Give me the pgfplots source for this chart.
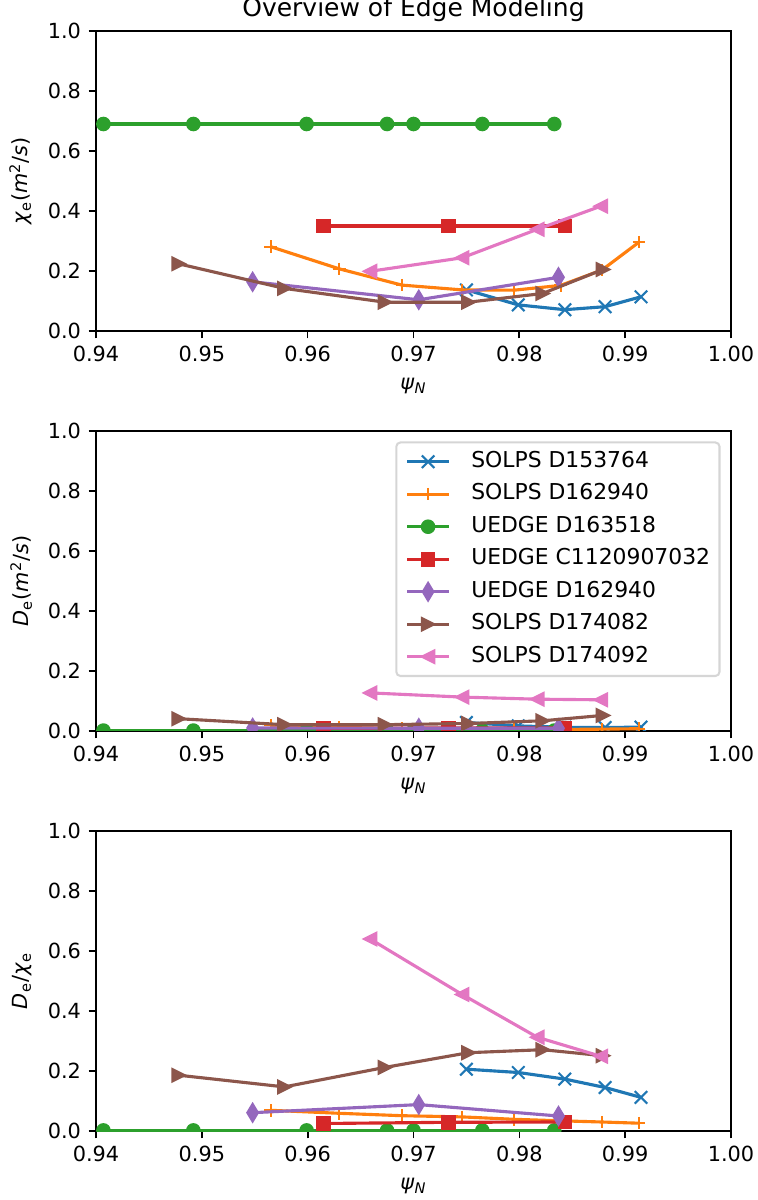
\documentclass[border=0pt]{standalone}
\usepackage{fontspec}
\setmainfont{DejaVu Sans}
\usepackage{pgfplots}
\pgfplotsset{compat=1.18}
\definecolor{C0}{HTML}{1F77B4}
\definecolor{C1}{HTML}{FF7F0E}
\definecolor{C2}{HTML}{2CA02C}
\definecolor{C3}{HTML}{D62728}
\definecolor{C4}{HTML}{9467BD}
\definecolor{C5}{HTML}{8C564B}
\definecolor{C6}{HTML}{E377C2}
\definecolor{legframe}{rgb}{0.8,0.8,0.8}
\pgfdeclareplotmark{tright}{%
  \pgfpathmoveto{\pgfqpoint{\pgfplotmarksize}{0pt}}%
  \pgfpathlineto{\pgfqpoint{-\pgfplotmarksize}{\pgfplotmarksize}}%
  \pgfpathlineto{\pgfqpoint{-\pgfplotmarksize}{-\pgfplotmarksize}}%
  \pgfpathclose\pgfusepathqfillstroke}
\pgfdeclareplotmark{tleft}{%
  \pgfpathmoveto{\pgfqpoint{-\pgfplotmarksize}{0pt}}%
  \pgfpathlineto{\pgfqpoint{\pgfplotmarksize}{\pgfplotmarksize}}%
  \pgfpathlineto{\pgfqpoint{\pgfplotmarksize}{-\pgfplotmarksize}}%
  \pgfpathclose\pgfusepathqfillstroke}
\pgfdeclareplotmark{thindiamond}{%
  \pgfpathmoveto{\pgfqpoint{0pt}{1.4142\pgfplotmarksize}}%
  \pgfpathlineto{\pgfqpoint{0.8485\pgfplotmarksize}{0pt}}%
  \pgfpathlineto{\pgfqpoint{0pt}{-1.4142\pgfplotmarksize}}%
  \pgfpathlineto{\pgfqpoint{-0.8485\pgfplotmarksize}{0pt}}%
  \pgfpathclose\pgfusepathqfillstroke}
\pgfplotsset{
  s0/.style={C0, line width=1.5pt, line join=round, mark=x, mark size=4.243pt, mark options={line width=1pt, line join=miter}},
  s1/.style={C1, line width=1.5pt, line join=round, mark=+, mark size=3pt, mark options={line width=1pt, line join=miter}},
  s2/.style={C2, line width=1.5pt, line join=round, mark=*, mark size=3pt, mark options={line width=1pt}},
  s3/.style={C3, line width=1.5pt, line join=round, mark=square*, mark size=3pt, mark options={line width=1pt, line join=miter}},
  s4/.style={C4, line width=1.5pt, line join=round, mark=thindiamond, mark size=3pt, mark options={line width=1pt, line join=miter}},
  s5/.style={C5, line width=1.5pt, line join=round, mark=tright, mark size=3pt, mark options={line width=1pt, line join=miter}},
  s6/.style={C6, line width=1.5pt, line join=round, mark=tleft, mark size=3pt, mark options={line width=1pt, line join=miter}},
  myaxis/.style={
    scale only axis, width=304.8pt, height=144pt,
    xmin=0.94, xmax=1.0, ymin=0, ymax=1,
    xtick={0.94,0.95,0.96,0.97,0.98,0.99,1.00},
    ytick={0,0.2,0.4,0.6,0.8,1.0},
    tick align=outside, xtick pos=bottom, ytick pos=left,
    major tick length=3.5pt,
    every tick/.style={black, line width=0.8pt},
    axis line style={line width=0.8pt},
    clip marker paths=true,
    /pgf/number format/assume math mode=true,
    xticklabel style={/pgf/number format/.cd, fixed, fixed zerofill, precision=2, /tikz/.cd, inner sep=0pt, anchor=north, yshift=-3.5pt},
    yticklabel style={/pgf/number format/.cd, fixed, fixed zerofill, precision=1, /tikz/.cd, inner sep=0pt, anchor=east, xshift=-3.5pt},
    xlabel={\textit{ψ}\textsubscript{\textit{N}}},
    xlabel style={at={(axis description cs:0.5,-0.156)}, anchor=north, inner sep=0pt},
    ylabel style={at={(axis description cs:-0.1001,0.5)}, anchor=south, inner sep=0pt},
  }
}
\begin{document}
\begin{tikzpicture}
\useasboundingbox (-46.08pt,-33.12pt) rectangle (317.76pt,542.88pt);
% ---------------- top panel ----------------
\begin{axis}[myaxis, at={(0pt,384pt)}, anchor=south west,
  ylabel={\textit{χ}\textsubscript{e}(\textit{m}\textsuperscript{2}/\textit{s})},
  every axis title shift=0pt,
  title={Overview of Edge Modeling},
  title style={at={(axis description cs:0.5,1.048)}, anchor=base, inner sep=0pt, font=\fontsize{12}{14.4}\selectfont}]
\addplot[s0] coordinates {(0.9750,0.137)(0.9799,0.087)(0.9843,0.071)(0.9881,0.081)(0.9915,0.114)};
\addplot[s1] coordinates {(0.9565,0.281)(0.9630,0.207)(0.9689,0.153)(0.9746,0.137)(0.9795,0.136)(0.9839,0.152)(0.9878,0.203)(0.9913,0.296)};
\addplot[s2] coordinates {(0.9407,0.69)(0.9492,0.69)(0.9599,0.69)(0.9675,0.69)(0.9700,0.69)(0.9765,0.69)(0.9833,0.69)};
\addplot[s3] coordinates {(0.9615,0.35)(0.9733,0.35)(0.9843,0.35)};
\addplot[s4] coordinates {(0.9548,0.164)(0.9705,0.104)(0.9837,0.179)};
\addplot[s5] coordinates {(0.9478,0.224)(0.9578,0.142)(0.9673,0.096)(0.9752,0.096)(0.9822,0.125)(0.9879,0.205)};
\addplot[s6] coordinates {(0.9659,0.199)(0.9746,0.244)(0.9817,0.339)(0.9877,0.416)};
\end{axis}
% ---------------- middle panel ----------------
\begin{axis}[myaxis, at={(0pt,192pt)}, anchor=south west,
  ylabel={\textit{D}\textsubscript{e}(\textit{m}\textsuperscript{2}/\textit{s})},
  legend cell align=left,
  legend style={at={(axis description cs:1,1)}, anchor=north east, xshift=-5pt, yshift=-5pt,
    draw=legframe, line width=1pt, rounded corners=2pt, fill=white, fill opacity=0.8, draw opacity=0.8, text opacity=1,
    inner xsep=4.5pt, inner ysep=4pt, row sep=5.1pt, column sep=10pt,
    font=\fontsize{10.5}{12.6}\selectfont,
    nodes={inner sep=0pt, text height=8pt, text depth=2.5pt}},
  legend image code/.code={\draw[sharp corners, opacity=1, mark repeat=2, mark phase=2] plot coordinates {(0pt,0pt)(10pt,0pt)(20pt,0pt)};}]
\addplot[s0] coordinates {(0.9750,0.0284)(0.9799,0.0170)(0.9843,0.0123)(0.9881,0.0117)(0.9915,0.0128)};
\addlegendentry{SOLPS D153764}
\addplot[s1] coordinates {(0.9565,0.0194)(0.9630,0.0122)(0.9689,0.0078)(0.9746,0.0064)(0.9795,0.0053)(0.9839,0.0052)(0.9878,0.0061)(0.9913,0.0077)};
\addlegendentry{SOLPS D162940}
\addplot[s2] coordinates {(0.9407,0.0015)(0.9492,0.0015)(0.9599,0.0015)(0.9675,0.0015)(0.9700,0.0015)(0.9765,0.0015)(0.9833,0.0015)};
\addlegendentry{UEDGE D163518}
\addplot[s3] coordinates {(0.9615,0.0088)(0.9733,0.0102)(0.9843,0.0105)};
\addlegendentry{UEDGE C1120907032}
\addplot[s4] coordinates {(0.9548,0.0100)(0.9705,0.0092)(0.9837,0.0090)};
\addlegendentry{UEDGE D162940}
\addplot[s5] coordinates {(0.9478,0.041)(0.9578,0.021)(0.9673,0.021)(0.9752,0.025)(0.9822,0.034)(0.9879,0.052)};
\addlegendentry{SOLPS D174082}
\addplot[s6] coordinates {(0.9659,0.127)(0.9746,0.113)(0.9817,0.106)(0.9877,0.104)};
\addlegendentry{SOLPS D174092}
\end{axis}
% ---------------- bottom panel ----------------
\begin{axis}[myaxis, at={(0pt,0pt)}, anchor=south west,
  ylabel={\textit{D}\textsubscript{e}/\textit{χ}\textsubscript{e}}]
\addplot[s0] coordinates {(0.9750,0.206)(0.9799,0.195)(0.9843,0.173)(0.9881,0.145)(0.9915,0.112)};
\addplot[s1] coordinates {(0.9565,0.069)(0.9630,0.059)(0.9689,0.051)(0.9746,0.047)(0.9795,0.039)(0.9839,0.034)(0.9878,0.030)(0.9913,0.026)};
\addplot[s2] coordinates {(0.9407,0.002)(0.9492,0.002)(0.9599,0.002)(0.9675,0.002)(0.9700,0.002)(0.9765,0.002)(0.9833,0.002)};
\addplot[s3] coordinates {(0.9615,0.025)(0.9733,0.029)(0.9843,0.030)};
\addplot[s4] coordinates {(0.9548,0.061)(0.9705,0.088)(0.9837,0.050)};
\addplot[s5] coordinates {(0.9478,0.186)(0.9578,0.147)(0.9673,0.212)(0.9752,0.261)(0.9822,0.271)(0.9879,0.251)};
\addplot[s6] coordinates {(0.9659,0.640)(0.9746,0.455)(0.9817,0.3125)(0.9877,0.249)};
\end{axis}
\end{tikzpicture}
\end{document}
